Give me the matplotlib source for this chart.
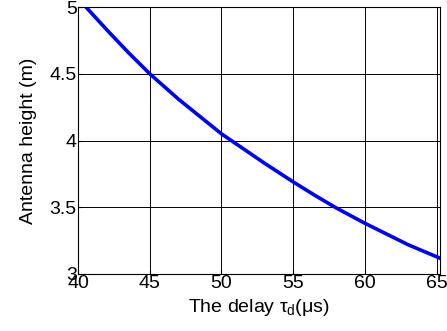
import matplotlib
matplotlib.use("Agg")
import matplotlib.pyplot as plt

# curve
delay_us = [40.55, 42.0, 43.5, 45.0, 47.0, 48.5, 50.0, 51.5, 53.0, 55.0, 56.5, 58.0, 60.0, 61.5, 63.0, 65.2]
height_m = [5.00, 4.83, 4.66, 4.50, 4.31, 4.18, 4.05, 3.94, 3.83, 3.69, 3.59, 3.495, 3.38, 3.30, 3.22, 3.12]

x_ticks = [40, 45, 50, 55, 60, 65]
y_ticks = [3, 3.5, 4, 4.5, 5]
y_tick_labels = ["3", "3.5", "4", "4.5", "5"]

plt.rcParams["font.family"] = ["Liberation Sans", "DejaVu Sans"]
plt.rcParams["mathtext.fontset"] = "custom"
plt.rcParams["mathtext.rm"] = "Liberation Sans"
plt.rcParams["mathtext.it"] = "Liberation Sans"

fig = plt.figure(figsize=(4.47, 3.31), dpi=100)
ax = fig.add_axes([78 / 447, 1 - 274 / 331, (439.5 - 78) / 447, (274 - 7) / 331])

ax.plot(delay_us, height_m, color="#0000ff", linewidth=2.6)

ax.set_xlim(40, 65.2)
ax.set_ylim(3, 5)
ax.set_xticks(x_ticks)
ax.set_yticks(y_ticks)
ax.set_yticklabels(y_tick_labels)
ax.grid(True, color="black", linewidth=0.7)
ax.tick_params(direction="in", length=3, labelsize=14, pad=1)
for s in ax.spines.values():
    s.set_linewidth(0.8)

ax.set_xlabel(r"The delay $\tau_{\rm d}$(μs)", fontsize=14, labelpad=3)
ax.set_ylabel("Antenna height (m)", fontsize=14, labelpad=9)

fig.savefig("out.png", dpi=100)
